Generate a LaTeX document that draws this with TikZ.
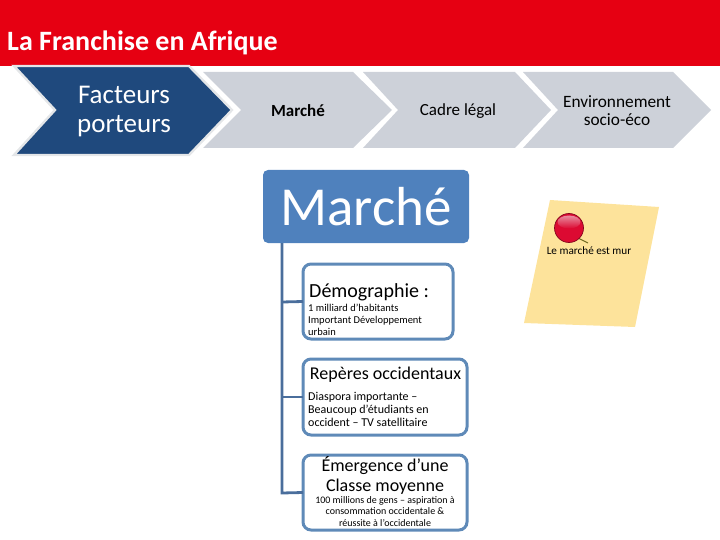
\documentclass[tikz,border=0pt]{standalone}
\usepackage{fontspec}
\setmainfont{Carlito}
\definecolor{redbar}{HTML}{E60012}
\definecolor{navy}{HTML}{1F497D}
\definecolor{chev}{HTML}{CDD1D9}
\definecolor{edgepale}{HTML}{E4E6E8}
\definecolor{headblue}{HTML}{4F81BD}
\definecolor{linkblue}{HTML}{4A6E9C}
\definecolor{boxblue}{HTML}{5F8AB8}
\definecolor{noteyellow}{HTML}{FDE39B}
\definecolor{pinred}{HTML}{DC0A32}
\definecolor{pinpink}{HTML}{E88CA0}
\tikzset{x=1pt,y=-1pt,
 greychev/.style={fill=chev,draw=none},
 chevlabel/.style={text=black,align=center,inner sep=0pt},
 subbox/.style={draw=boxblue,line width=3pt,fill=white,rounded corners=8pt,inner sep=0pt,outer sep=0pt,anchor=north west},
 headbox/.style={fill=headblue,draw=none,rounded corners=5pt,minimum width=206pt,minimum height=73pt,text=white,inner sep=0pt,font=\fontsize{55}{55}\selectfont},
 linkline/.style={draw=linkblue,line width=2.8pt},
 big/.style={text=black,inner sep=0pt,align=center,font=\fontsize{20}{20}\selectfont},
 small/.style={text=black,inner sep=0pt,font=\fontsize{10.5}{12}\selectfont}}
\begin{document}
\begin{tikzpicture}
\useasboundingbox (0,0) rectangle (720,540);
\fill[redbar] (0,0) rectangle (720,66);
\node[anchor=west,text=white,inner sep=0pt,font=\fontsize{28}{28}\bfseries\selectfont] (title) at (7,42.5) {La Franchise en Afrique};
% chevrons
\fill[greychev] (203,72) -- (353,72) -- (392,110) -- (353,148) -- (203,148) -- (241,110) -- cycle;
\fill[greychev] (363,72) -- (515,72) -- (551,110) -- (515,148) -- (363,148) -- (398,110) -- cycle;
\fill[greychev] (523,72) -- (673,72) -- (711,110) -- (673,148) -- (523,148) -- (558,110) -- cycle;
\fill[navy,draw=edgepale,line width=2.4pt] (14,66) -- (189,66) -- (232,110) -- (189,155) -- (14,155) -- (55,110) -- cycle;
\node[text=white,align=center,inner sep=0pt,font=\fontsize{27}{29}\selectfont] (facteurs) at (124,111.5) {Facteurs\\porteurs};
\node[chevlabel,font=\fontsize{17}{17}\bfseries\selectfont] (marche) at (298,111) {Marché};
\node[chevlabel,font=\fontsize{17}{17}\selectfont] (cadre) at (458,111.5) {Cadre légal};
\node[chevlabel,font=\fontsize{17.3}{18}\selectfont] (env) at (617,111) {Environnement\\socio-éco};
% head
\node[headbox] (head) at (366,206.5) {Marché};
% sub boxes
\node[subbox,minimum width=150pt,minimum height=75pt] (b1) at (303,264) {};
\node[subbox,minimum width=164pt,minimum height=76pt] (b2) at (303,359) {};
\node[subbox,minimum width=164pt,minimum height=75pt] (b3) at (303,455) {};
% links
\coordinate (trunk) at (282,243);
\coordinate (j1) at (282,302);
\coordinate (j2) at (282,397);
\coordinate (j3) at (282,493);
\draw[linkline] (trunk) -- (j3) -- (b3.west);
\draw[linkline] (j1) -- (b1.west);
\draw[linkline] (j2) -- (b2.west);
% box texts
\node[big,anchor=west] (t1) at (309,292) {Démographie :};
\node[small,anchor=north west,align=left] (s1) at (308,303.5) {1 milliard d’habitants\\Important Développement\\urbain};
\node[big,font=\fontsize{18}{20}\selectfont] (t2) at (385.5,374.5) {Repères occidentaux};
\node[small,anchor=north west,align=left,font=\fontsize{12}{13}\selectfont] (s2) at (308,392) {Diaspora importante –\\Beaucoup d’étudiants en\\occident – TV satellitaire};
\node[big,font=\fontsize{18}{19.5}\selectfont] (t3) at (385,475.5) {Émergence d’une\\Classe moyenne};
\node[small,align=center,anchor=north,font=\fontsize{10}{11.3}\selectfont] (s3) at (385,496.5) {100 millions de gens – aspiration à\\consommation occidentale \&\\réussite à l’occidentale};
% note
\fill[noteyellow] (550,200) -- (659,207) -- (635,327) -- (524,323) -- cycle;
\draw[olive!70!black,line width=1pt] (578,238) -- (588,243);
\fill[pinred,draw=pinred!60!black,line width=.7pt] (569,228) circle (14.5);
\shade[top color=pinpink,bottom color=pinred] (569,222) ellipse (11.5 and 6.5);
\node[small,font=\fontsize{11.2}{12}\selectfont] (note) at (589,250.5) {Le marché est mur};
\end{tikzpicture}
\end{document}
